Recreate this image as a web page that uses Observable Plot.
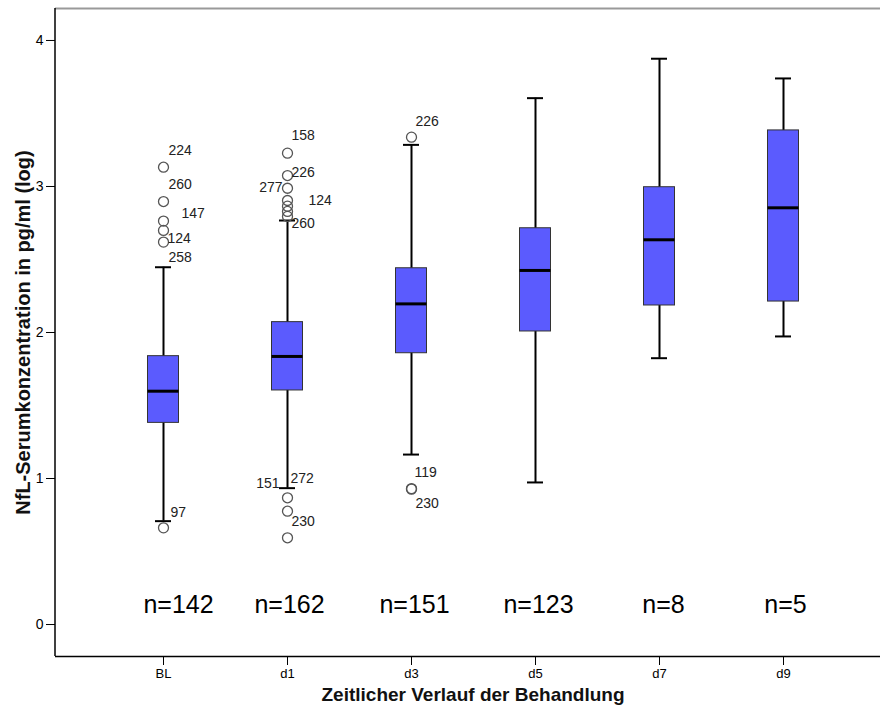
<!DOCTYPE html>
<html><head><meta charset="utf-8">
<script src="https://cdn.jsdelivr.net/npm/d3@7"></script>
<script src="https://cdn.jsdelivr.net/npm/@observablehq/plot@0.6"></script>
<style>body{margin:0;background:#fff} svg{display:block}</style>
</head><body><div id="chart"></div>
<script>
// ---- data ----
const categories = ["BL", "d1", "d3", "d5", "d7", "d9"];
const counts      = [142, 162, 151, 123, 8, 5];
const q1          = [1.381, 1.603, 1.858, 2.007, 2.185, 2.212];
const median      = [1.598, 1.836, 2.196, 2.425, 2.635, 2.854];
const q3          = [1.838, 2.071, 2.440, 2.714, 2.995, 3.384];
const whiskerLow  = [0.708, 0.934, 1.164, 0.973, 1.824, 1.973];
const whiskerHigh = [2.447, 2.767, 3.285, 3.605, 3.875, 3.740];

const outlierCat   = ["BL","BL","BL","BL","BL","BL",
                      "d1","d1","d1","d1","d1","d1","d1","d1","d1","d1",
                      "d3","d3","d3"];
const outlierValue = [3.132, 2.897, 2.763, 2.699, 2.619, 0.662,
                      3.228, 3.075, 2.988, 2.904, 2.865, 2.829, 2.795, 0.868, 0.776, 0.594,
                      3.338, 0.931, 0.927];

// case-number labels: category, label anchor value, case id
const labelCat   = ["BL","BL","BL","BL","BL","BL",
                    "d1","d1","d1","d1","d1","d1","d1","d1",
                    "d3","d3","d3"];
const labelValue = [3.247, 3.014, 2.815, 2.644, 2.514, 0.767,
                    3.349, 3.096, 2.993, 2.904, 2.747, 0.966, 1.000, 0.707,
                    3.445, 1.043, 0.829];
const labelId    = ["224","260","147","124","258","97",
                    "158","226","277","124","260","151","272","230",
                    "226","119","230"];

const yTicks = [0, 1, 2, 3, 4];
const xTitle = "Zeitlicher Verlauf der Behandlung";
const yTitle = "NfL-Serumkonzentration in pg/ml (log)";

// ---- build tables ----
const boxes = categories.map((c, i) => ({cat: c, q1: q1[i], med: median[i], q3: q3[i], lo: whiskerLow[i], hi: whiskerHigh[i], n: counts[i]}));
const outliers = outlierCat.map((c, i) => ({cat: c, value: outlierValue[i]}));
const labels = labelCat.map((c, i) => ({cat: c, value: labelValue[i], id: labelId[i]}));

// label placement (horizontal offsets in px; negative = left of point, end-anchored)
const labelShift = [5, 5, 18, 4, 5, 7, 4, 4, -5, 21, 4, -8, 3, 4, 4, 3, 4];
const nShift = [15, 2, 3, 3, 4, 2];

const yMin = -0.219, yMax = 4.219;
const font = "'Liberation Sans', Arial, sans-serif";

const leftLine = (index, scales, values, dims) => {
  const g = d3.create("svg:line")
    .attr("x1", dims.marginLeft).attr("x2", dims.marginLeft)
    .attr("y1", dims.marginTop).attr("y2", dims.height - dims.marginBottom)
    .attr("stroke", "black").attr("stroke-width", 1.5);
  return g.node();
};

const labelMarks = labels.map((l, i) => Plot.text([l], {
  x: "cat", y: "value", text: "id",
  dx: labelShift[i], textAnchor: labelShift[i] < 0 ? "end" : "start",
  fontSize: 14, fill: "#222"
}));

const nMarks = boxes.map((b, i) => Plot.text([b], {
  x: "cat", text: d => "n=" + d.n, frameAnchor: "bottom", dy: -44, dx: nShift[i], fontSize: 25, fill: "black"
}));

const chart = Plot.plot({
  width: 880, height: 713,
  marginLeft: 55, marginRight: 0, marginTop: 8, marginBottom: 57,
  style: {fontFamily: font, background: "white", color: "black"},
  x: {type: "band", domain: categories, range: [60, 885], padding: 0.6, label: null},
  y: {domain: [yMin, yMax], label: null},
  marks: [
    Plot.ruleY([yMax], {stroke: "#999", strokeWidth: 2}),
    Plot.ruleY([yMin], {stroke: "black", strokeWidth: 1.5}),
    leftLine,
    Plot.axisX({tickSize: 9, tickPadding: 3, fontSize: 13, label: null}),
    Plot.axisY({ticks: yTicks, tickFormat: d3.format("d"), tickSize: 9, tickPadding: 3, fontSize: 14, label: null}),
    Plot.ruleX(boxes, {x: "cat", y1: "lo", y2: "hi", stroke: "black", strokeWidth: 2}),
    Plot.tickY(boxes, {x: "cat", y: "lo", stroke: "black", strokeWidth: 2, inset: 17}),
    Plot.tickY(boxes, {x: "cat", y: "hi", stroke: "black", strokeWidth: 2, inset: 17}),
    Plot.barY(boxes, {x: "cat", y1: "q1", y2: "q3", fill: "#5b5bfe", stroke: "#333", strokeWidth: 1, insetLeft: 9.5, insetRight: 9.5}),
    Plot.tickY(boxes, {x: "cat", y: "med", stroke: "black", strokeWidth: 3, inset: 9.5}),
    Plot.dot(outliers, {x: "cat", y: "value", r: 5, stroke: "#555", strokeWidth: 1.3, fill: "none"}),
    ...labelMarks,
    ...nMarks,
    Plot.text([yTitle], {frameAnchor: "left", textAnchor: "middle", dx: -32, rotate: -90, fontSize: 20, fontWeight: "bold", fill: "#111"}),
    Plot.text([xTitle], {frameAnchor: "bottom", dy: 44, dx: 5, fontSize: 19, fontWeight: "bold", fill: "#111"})
  ]
});
document.getElementById("chart").append(chart);
</script>
</body></html>
